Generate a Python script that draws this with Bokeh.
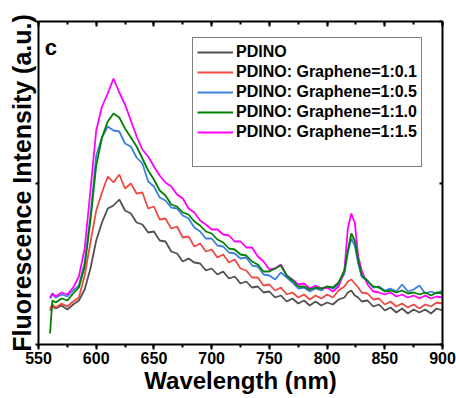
from bokeh.plotting import figure
from bokeh.models import (Range1d, LinearAxis, FixedTicker, Legend, LegendItem,
                          Label, SingleIntervalTicker, CustomJSTickFormatter)
from bokeh.embed import file_html
from bokeh.resources import INLINE

wavelength = [560, 562, 565, 570, 575, 580, 585, 590, 595, 600, 605, 610, 615, 620,
              625, 630, 635, 640, 645, 650, 655, 660, 665, 670, 675, 680, 685, 690,
              695, 700, 705, 710, 715, 720, 725, 730, 735, 740, 745, 750, 755, 760,
              765, 770, 775, 780, 785, 790, 795, 800, 805, 810, 815, 818, 821, 824,
              827, 830, 835, 840, 845, 850, 855, 860, 865, 870, 875, 880, 885, 890,
              895, 900]

pdino = [34, 38, 36, 39, 35, 40, 44, 55, 76, 104, 122, 136, 139, 145, 134, 131, 122,
         120, 112, 113, 104, 103, 93, 91, 83, 86, 82, 81, 74, 76, 70, 73, 66, 68, 61,
         63, 57, 58, 52, 53, 47, 49, 43, 46, 41, 44, 39, 43, 39, 42, 40, 45, 47, 52,
         54, 49, 47, 43, 44, 38, 40, 34, 37, 32, 36, 31, 35, 32, 35, 31, 36, 34]

g_0_1 = [36, 40, 37, 41, 38, 43, 47, 69, 102, 134, 152, 168, 162, 170, 156, 161, 151,
         152, 136, 138, 125, 126, 116, 118, 107, 108, 98, 101, 93, 95, 87, 90, 82, 85,
         76, 74, 67, 67, 59, 60, 54, 57, 50, 52, 47, 50, 45, 49, 46, 50, 47, 54, 58,
         63, 65, 61, 57, 52, 51, 45, 46, 40, 43, 38, 41, 37, 40, 36, 40, 38, 42, 41]

g_0_5 = [46, 50, 47, 50, 48, 54, 59, 82, 129, 189, 207, 218, 214, 213, 201, 198, 187,
         181, 163, 158, 147, 144, 137, 136, 129, 126, 117, 113, 106, 106, 99, 98, 92,
         91, 86, 87, 79, 78, 70, 69, 65, 72, 67, 62, 56, 57, 53, 56, 54, 58, 56, 60,
         71, 92, 106, 99, 81, 68, 63, 57, 58, 54, 56, 53, 60, 53, 55, 59, 51, 53, 51, 54]

g_1_0 = [11, 44, 42, 46, 44, 51, 57, 78, 124, 179, 207, 223, 231, 227, 216, 207, 198,
         186, 174, 165, 154, 149, 140, 138, 132, 130, 123, 119, 113, 111, 105, 102, 96,
         95, 90, 89, 83, 80, 73, 73, 76, 79, 69, 64, 58, 58, 55, 57, 56, 58, 57, 62,
         74, 94, 111, 104, 84, 69, 64, 58, 57, 53, 54, 52, 54, 51, 52, 50, 52, 49, 52, 51]

g_1_5 = [47, 51, 48, 52, 50, 57, 68, 96, 154, 214, 238, 251, 266, 252, 240, 224, 208,
         195, 188, 178, 169, 162, 158, 150, 146, 136, 132, 124, 120, 115, 115, 110, 109,
         103, 103, 97, 97, 88, 83, 75, 76, 80, 69, 65, 60, 61, 56, 59, 56, 57, 53, 58,
         74, 116, 131, 122, 88, 74, 60, 53, 52, 50, 52, 48, 50, 47, 49, 46, 49, 46, 48, 47]

labels = ["PDINO", "PDINO: Graphene=1:0.1", "PDINO: Graphene=1:0.5",
          "PDINO: Graphene=1:1.0", "PDINO: Graphene=1:1.5"]
colors = ["#505050", "#f04a45", "#3d80dc", "#008000", "#ff00ff"]
series = [pdino, g_0_1, g_0_5, g_1_0, g_1_5]

FONT = "Liberation Sans"
blank = CustomJSTickFormatter(code="return ''")

p = figure(width=456, height=398, output_backend="svg", toolbar_location=None,
           x_range=Range1d(550, 900), y_range=Range1d(0, 323),
           min_border_left=38, min_border_right=14, min_border_top=21,
           min_border_bottom=54)
p.grid.visible = False
p.outline_line_color = None
p.background_fill_color = "white"

renderers = {}
for idx in [0, 1, 2, 4, 3]:
    renderers[idx] = p.line(wavelength, series[idx], line_color=colors[idx],
                            line_width=1.8)
dummy = p.line([], [], line_alpha=0)

xt = SingleIntervalTicker(interval=50, num_minor_ticks=2)
yt = FixedTicker(ticks=[0, 161.5, 323], minor_ticks=[])

xa = p.xaxis[0]
xa.ticker = xt
xa.axis_line_width = 2
xa.major_tick_line_width = 2
xa.minor_tick_line_width = 2
xa.major_tick_out = 5
xa.major_tick_in = 0
xa.minor_tick_out = 3
xa.minor_tick_in = 0
xa.major_label_text_font = FONT
xa.major_label_text_font_style = "bold"
xa.major_label_text_font_size = "16px"
xa.major_label_text_color = "black"
xa.major_label_standoff = 2
xa.axis_label = "Wavelength (nm)"
xa.axis_label_text_font = FONT
xa.axis_label_text_font_style = "bold"
xa.axis_label_text_font_size = "24px"
xa.axis_label_text_color = "black"
xa.axis_label_standoff = 0

ya = p.yaxis[0]
ya.ticker = yt
ya.formatter = blank
ya.axis_line_width = 2
ya.major_tick_line_width = 2
ya.major_tick_out = 3
ya.major_tick_in = 0
ya.minor_tick_out = 0
ya.major_label_standoff = 0
ya.major_label_text_font_size = "1px"
ya.axis_label = "Fluorescence Intensity (a.u.)"
ya.axis_label_text_font = FONT
ya.axis_label_text_font_style = "bold"
ya.axis_label_text_font_size = "25px"
ya.axis_label_text_color = "black"
ya.axis_label_standoff = 0

top = LinearAxis(ticker=SingleIntervalTicker(interval=50, num_minor_ticks=2),
                 formatter=blank,
                 axis_line_width=2, major_tick_line_width=2, minor_tick_line_width=2,
                 major_tick_in=5, major_tick_out=0, minor_tick_in=3, minor_tick_out=0,
                 major_label_standoff=0, major_label_text_font_size="1px")
p.add_layout(top, "above")
right = LinearAxis(ticker=FixedTicker(ticks=[0, 161.5, 323], minor_ticks=[]),
                   formatter=blank,
                   axis_line_width=2, major_tick_line_width=2,
                   major_tick_in=3, major_tick_out=0, minor_tick_out=0,
                   major_label_standoff=0, major_label_text_font_size="1px")
p.add_layout(right, "right")

items = [LegendItem(label=labels[i], renderers=[renderers[i]]) for i in range(5)]
items.append(LegendItem(label=" ", renderers=[dummy]))
legend = Legend(items=items, location=(154, 177), padding=4, spacing=0, margin=0,
                glyph_width=36, glyph_height=20, label_height=20, label_standoff=3,
                label_text_font=FONT, label_text_font_style="bold",
                label_text_font_size="16px", label_text_color="black",
                border_line_color="black", border_line_width=1.5,
                background_fill_alpha=1)
p.add_layout(legend, "center")

p.add_layout(Label(x=687.8, y=189, text="Film", text_font=FONT,
                   text_font_style="bold", text_font_size="16px",
                   text_baseline="middle", text_color="black"))
p.add_layout(Label(x=555.5, y=297, text="c", text_font=FONT,
                   text_font_style="bold", text_font_size="22px",
                   text_baseline="alphabetic", text_color="black"))

open("out.html", "w").write(file_html(p, INLINE))
